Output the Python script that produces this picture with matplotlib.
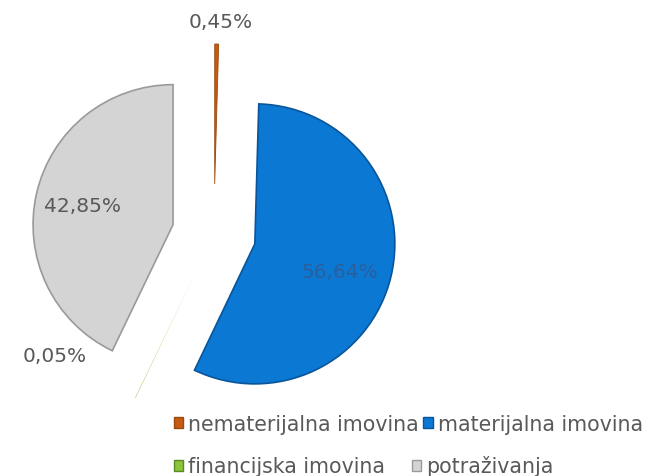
import matplotlib.pyplot as plt
from matplotlib.patches import Patch

categories = ['nematerijalna imovina', 'materijalna imovina', 'financijska imovina', 'potraživanja']
shares = [0.45, 56.64, 0.05, 42.85]
value_labels = ['0,45%', '56,64%', '0,05%', '42,85%']

colors = ['#c55a11', '#0b78d3', '#8cc43c', '#d4d4d4']
edges = ['#9a4a10', '#0a5599', '#5a8a26', '#9a9a9a']
edge_widths = [0.6, 1.2, 0, 1.2]
label_colors = ['#595959', '#2a5f9c', '#595959', '#595959']

W, H = 652, 477
# label anchor points (pixel coords, y from top)
label_pos = [(221, 22), (340, 272), (55, 357), (82, 207)]

fig = plt.figure(figsize=(6.52, 4.77), dpi=100)
ax = fig.add_axes([0, 0, 1, 1])

wedges, _ = ax.pie(shares, colors=colors, startangle=90, counterclock=False,
                   explode=[50, 42, 42, 42], radius=140, center=(214, H - 235))
for w, ec, lw in zip(wedges, edges, edge_widths):
    w.set_edgecolor(ec)
    w.set_linewidth(lw)

ax.set_xlim(0, W)
ax.set_ylim(0, H)
ax.set_aspect('equal')
ax.axis('off')

for txt, (x, y), c in zip(value_labels, label_pos, label_colors):
    ax.text(x, H - y, txt, ha='center', va='center', fontsize=14.5, color=c)

handles = [Patch(facecolor=f, edgecolor=e) for f, e in zip(colors, edges)]
common = dict(frameon=False, ncol=2, handlelength=0.45, handleheight=0.45,
              handletextpad=0.25, borderpad=0, borderaxespad=0, fontsize=14.8,
              labelcolor='#595959')
fig.legend(handles[:2], categories[:2], loc='center left',
           bbox_to_anchor=(174 / W, 1 - 425 / H), columnspacing=0.2, **common)
fig.legend(handles[2:], categories[2:], loc='center left',
           bbox_to_anchor=(174 / W, 1 - 467 / H), columnspacing=1.3, **common)

fig.savefig('out.png', dpi=100)
